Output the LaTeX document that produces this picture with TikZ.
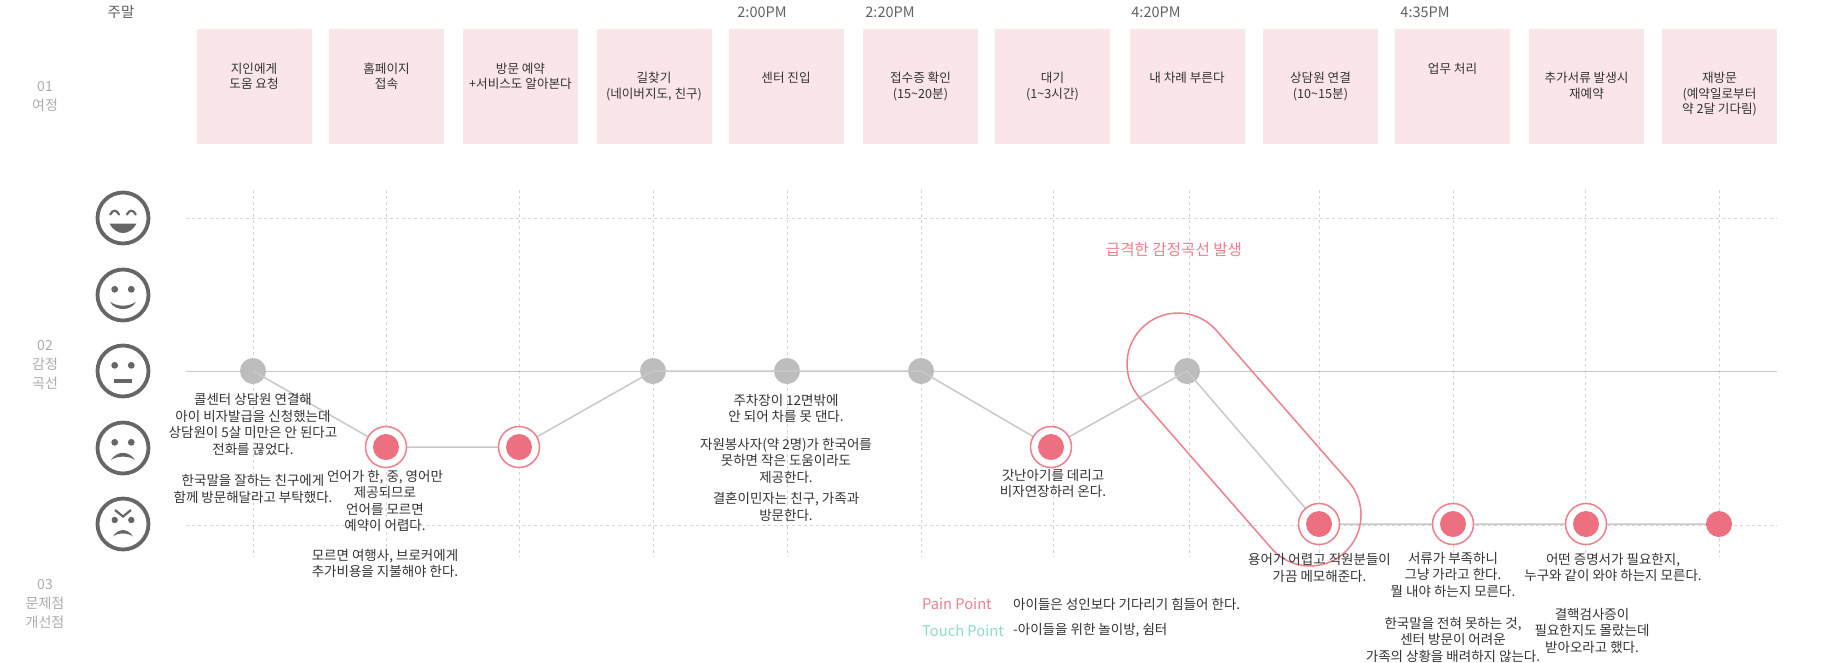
\documentclass[tikz,border=0pt]{standalone}
\usepackage{fontspec}
\setmainfont{Noto Sans CJK KR}
\definecolor{boxpink}{HTML}{FAE6E9}
\definecolor{redpt}{HTML}{EC7080}
\definecolor{redln}{HTML}{EE7F8C}
\definecolor{greypt}{HTML}{BDBDBD}
\definecolor{greyln}{HTML}{C8C8C8}
\definecolor{gridc}{HTML}{D4D4D4}
\definecolor{facec}{HTML}{666666}
\definecolor{txt}{HTML}{333333}
\definecolor{lab}{HTML}{ABABAB}
\definecolor{touch}{HTML}{8DDCC5}
\pgfdeclarelayer{low}\pgfdeclarelayer{lines}
\pgfsetlayers{low,lines,main}
\tikzset{
 x=1pt,y=-1pt,
 jbox/.style={fill=boxpink,draw=none,minimum width=115pt,minimum height=115.5pt,inner sep=0pt,outer sep=0pt,anchor=north west},
 jtxt/.style={text=txt,align=center,anchor=north,inner sep=0pt,font=\fontsize{12.6}{15.6}\selectfont},
 note/.style={text=txt,align=center,anchor=north,inner sep=0pt,font=\fontsize{13.5}{16.5}\selectfont},
 notel/.style={note,anchor=west,align=left},
 sec/.style={text=lab,align=center,inner sep=0pt,font=\fontsize{14}{19}\selectfont},
 tm/.style={text=black!62,inner sep=0pt,font=\fontsize{14.5}{17}\selectfont},
 greydot/.style={circle,fill=greypt,draw=none,minimum size=26pt,inner sep=0pt},
 reddot/.style={circle,fill=redpt,draw=none,minimum size=26pt,inner sep=0pt},
 ringc/.style={circle,fill=white,draw=redln,line width=1.5pt,minimum size=41pt,inner sep=0pt},
 gridl/.style={gridc,dash pattern=on 2.5pt off 3.5pt,line width=1pt},
 conn/.style={greyln,line width=1.5pt},
 face/.style={circle,draw=facec,line width=3.8pt,minimum size=51pt,inner sep=0pt,outer sep=0pt,fill=white},
 capsule/.style={redln,line width=1.5pt},
 ptl/.style={inner sep=0pt,anchor=west,font=\fontsize{14.7}{17}\selectfont},
 facestroke/.style={facec,line width=2.2pt,line cap=round},
}
\newcommand{\eyes}{\fill[facec] (-8.3,-5.7) circle[radius=3.4pt]; \fill[facec] (8.3,-5.7) circle[radius=3.4pt];}
\begin{document}
\begin{tikzpicture}
\useasboundingbox (0,0) rectangle (1825,662);
% journey boxes
\foreach \i/\x in {1/196.5,2/329,3/463,4/596.5,5/728.5,6/863,7/995,8/1129.5,9/1263,10/1395,11/1529,12/1662}
  \node[jbox] (b\i) at (\x,28.5) {};
\foreach \i/\y/\t in {
 1/62.5/{지인에게\\도움 요청},2/62.5/{홈페이지\\접속},3/62.5/{방문 예약\\+서비스도 알아본다},
 4/72/{길찾기\\(네이버지도, 친구)},5/72/{센터 진입},6/72/{접수증 확인\\(15\textasciitilde20분)},
 7/72/{대기\\(1\textasciitilde3시간)},8/72/{내 차례 부른다},9/72/{상담원 연결\\(10\textasciitilde15분)},
 10/62.5/{업무 처리},11/72/{추가서류 발생시\\재예약},12/72/{재방문\\(예약일로부터\\약 2달 기다림)}}
  \node[jtxt] (jt\i) at (b\i.north |- 0,\y) {\t};
% top labels
\node[tm] (t0) at (121,12) {주말};
\node[tm] (t1) at (762,12) {2:00PM};
\node[tm] (t2) at (890,12) {2:20PM};
\node[tm] (t3) at (1156,12) {4:20PM};
\node[tm] (t4) at (1425,12) {4:35PM};
% section labels
\node[sec] (s1) at (45,96) {01\\여정};
\node[sec] (s2) at (45,365) {02\\감정\\곡선};
\node[sec] (s3) at (45,604) {03\\문제점\\개선점};
% grid
\begin{pgfonlayer}{low}
\foreach \x in {253,386,519,653,787,921,1053,1189,1319,1453,1585,1719}
  \draw[gridl] (\x,190) -- (\x,557);
\draw[gridl] (186,218) -- (1777,218);
\draw[gridl] (186,525) -- (1777,525);
\draw[greyln,line width=1pt] (186,371) -- (1777,371);
\end{pgfonlayer}
% faces
\node[face] (f1) at (123,218) {};
\node[face] (f2) at (123,295) {};
\node[face] (f3) at (123,371) {};
\node[face] (f4) at (123,448) {};
\node[face] (f5) at (123,524) {};
\begin{scope}[shift={(f1)}]
\draw[facestroke] (-12.7,-3.5) .. controls (-10.5,-8.5) and (-6.2,-8.5) .. (-4,-3.5);
\draw[facestroke] (4,-3.5) .. controls (6.2,-8.5) and (10.5,-8.5) .. (12.7,-3.5);
\fill[facec] (-13.5,5.7) -- (13.5,5.7) .. controls (10,12) and (5,15) .. (0,15) .. controls (-5,15) and (-10,12) .. (-13.5,5.7) -- cycle;
\end{scope}
\begin{scope}[shift={(f2)}]
\eyes
\fill[facec] (-13,6.7) .. controls (-6,12) and (6,12) .. (13,6.7) .. controls (8,16.5) and (-8,16.5) .. (-13,6.7) -- cycle;
\end{scope}
\begin{scope}[shift={(f3)}]
\eyes
\fill[facec] (-9.3,8) rectangle (9.3,11.6);
\end{scope}
\begin{scope}[shift={(f4)}]
\eyes
\fill[facec] (-12,12) .. controls (-6,2.5) and (6,2.5) .. (12,12) .. controls (6,7.5) and (-6,7.5) .. (-12,12) -- cycle;
\end{scope}
\begin{scope}[shift={(f5)}]
\fill[facec] (-8.3,-4) circle[radius=3.2pt];
\fill[facec] (8.3,-4) circle[radius=3.2pt];
\draw[facec,line width=2.2pt] (-8,-14) -- (0,-7.5) -- (8,-14);
\fill[facec] (-10,12.5) .. controls (-5,4) and (5,4) .. (10,12.5) .. controls (5,8.5) and (-5,8.5) .. (-10,12.5) -- cycle;
\end{scope}
% emotion points
\begin{pgfonlayer}{low}
\foreach \i/\x in {1/253,4/653,5/787,6/921,8/1187}
  \node[greydot] (p\i) at (\x,371) {};
\end{pgfonlayer}
\foreach \i/\x/\y in {2/386/447,3/519/447,7/1051/447,9/1319/524,10/1453/524,11/1586/524}{
  \node[ringc] (r\i) at (\x,\y) {};
  \node[reddot] (p\i) at (\x,\y) {};
}
\node[reddot] (p12) at (1719,524) {};
\begin{pgfonlayer}{lines}
\draw[conn] (p1.center) -- (p2.center) -- (p3.center) -- (p4.center) -- (p5.center) -- (p6.center) -- (p7.center) -- (p8.center) -- (p9.center) -- (p10.center) -- (p11.center) -- (p12.center);
\end{pgfonlayer}
% capsule
\draw[capsule] (1216.4,330.4) -- (1348.4,481.4) arc[start angle=41.2,end angle=-138.8,radius=51pt] -- (1139.6,397.6) arc[start angle=221.2,end angle=41.2,radius=51pt] -- cycle;
\node[inner sep=0pt,text=redln,font=\fontsize{15.6}{18}\selectfont] (hl) at (1174,250) {급격한 감정곡선 발생};
% notes
\node[note] (n1) at (253,393.5) {콜센터 상담원 연결해\\아이 비자발급을 신청했는데\\상담원이 5살 미만은 안 된다고\\전화를 끊었다.\\[15pt]한국말을 잘하는 친구에게\\함께 방문해달라고 부탁했다.};
\node[note] (n2) at (385,470) {언어가 한, 중, 영어만\\제공되므로\\언어를 모르면\\예약이 어렵다.\\[13pt]모르면 여행사, 브로커에게\\추가비용을 지불해야 한다.};
\node[note] (n4) at (786,394) {주차장이 12면밖에\\안 되어 차를 못 댄다.\\[11pt]자원봉사자(약 2명)가 한국어를\\못하면 작은 도움이라도\\제공한다.\\[5pt]결혼이민자는 친구, 가족과\\방문한다.};
\node[note] (n7) at (1053,469) {갓난아기를 데리고\\비자연장하러 온다.};
\node[note] (n9) at (1319.5,553.5) {용어가 어렵고 직원분들이\\가끔 메모해준다.};
\node[note] (n10) at (1453,552) {서류가 부족하니\\그냥 가라고 한다.\\뭘 내야 하는지 모른다.};
\node[note] (n10b) at (1453,617) {한국말을 전혀 못하는 것,\\센터 방문이 어려운\\가족의 상황을 배려하지 않는다.};
\node[note] (n11) at (1613,553) {어떤 증명서가 필요한지,\\누구와 같이 와야 하는지 모른다.};
\node[note] (n11b) at (1592,608) {결핵검사증이\\필요한지도 몰랐는데\\받아오라고 했다.};
% legend
\node[ptl,text=redln] (pp) at (922,604) {Pain Point};
\node[ptl,text=touch] (tp) at (922,630.5) {Touch Point};
\node[notel] (ppt) at (1013,604) {아이들은 성인보다 기다리기 힘들어 한다.};
\node[notel] (tpt) at (1013,630.5) {-아이들을 위한 놀이방, 쉼터};
\end{tikzpicture}
\end{document}
